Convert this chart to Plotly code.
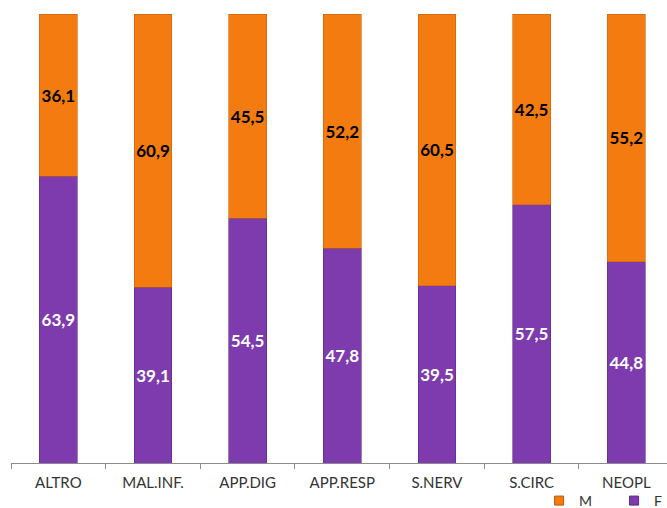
import plotly.graph_objects as go

categories = ["ALTRO", "MAL.INF.", "APP.DIG", "APP.RESP", "S.NERV", "S.CIRC", "NEOPL"]
values_f = [63.9, 39.1, 54.5, 47.8, 39.5, 57.5, 44.8]
values_m = [36.1, 60.9, 45.5, 52.2, 60.5, 42.5, 55.2]

COLOR_M = "#F47B0F"
COLOR_F = "#7E3BAE"


def fmt(v):
    return f"{v:.1f}".replace(".", ",")


value_font = "Lato, DejaVu Sans, sans-serif"

fig = go.Figure()
# F at the bottom of each column, M stacked on top
fig.add_trace(go.Bar(
    name="F", x=categories, y=values_f, showlegend=False,
    marker=dict(color=COLOR_F, line=dict(color="#5E2A85", width=0.6)),
    text=[fmt(v) for v in values_f], textposition="inside", insidetextanchor="middle",
    textangle=0, constraintext="none",
    textfont=dict(color="white", size=17, family=value_font, weight="bold"),
    cliponaxis=False,
))
fig.add_trace(go.Bar(
    name="M", x=categories, y=values_m, showlegend=False,
    marker=dict(color=COLOR_M, line=dict(color="#C8620A", width=0.6)),
    text=[fmt(v) for v in values_m], textposition="inside", insidetextanchor="middle",
    textangle=0, constraintext="none",
    textfont=dict(color="black", size=17, family=value_font, weight="bold"),
    cliponaxis=False,
))

# legend entries with small square swatches
for name, color, edge in [("M", COLOR_M, "#B85A08"), ("F", COLOR_F, "#5A2A80")]:
    fig.add_trace(go.Scatter(
        x=[None], y=[None], mode="markers", name=name,
        marker=dict(symbol="square", size=9, color=color, line=dict(color=edge, width=1)),
    ))

fig.update_layout(
    barmode="stack",
    bargap=0.6,
    width=667, height=508,
    margin=dict(l=11, r=0, t=14, b=45, autoexpand=False),
    plot_bgcolor="white", paper_bgcolor="white",
    showlegend=True,
    uniformtext=dict(mode="show", minsize=17),
    legend=dict(orientation="h", x=0.805, xanchor="left", y=-0.0846, yanchor="middle",
                font=dict(size=14, family=value_font, color="#333"),
                itemwidth=30, traceorder="normal", itemsizing="trace",
                entrywidth=30, entrywidthmode="pixels",
                bgcolor="rgba(0,0,0,0)"),
    font=dict(family=value_font),
)
fig.update_xaxes(
    range=[-0.5, 6.43], showline=True, linecolor="#8C8C8C", linewidth=1,
    ticks="outside", tickcolor="#8C8C8C", ticklen=5, tickson="boundaries",
    ticklabelstandoff=6,
    tickfont=dict(size=15, color="#333", family=value_font),
    showgrid=False, fixedrange=True,
)
fig.update_yaxes(range=[0, 100], visible=False, showgrid=False, fixedrange=True)

fig.write_html("out.html")
